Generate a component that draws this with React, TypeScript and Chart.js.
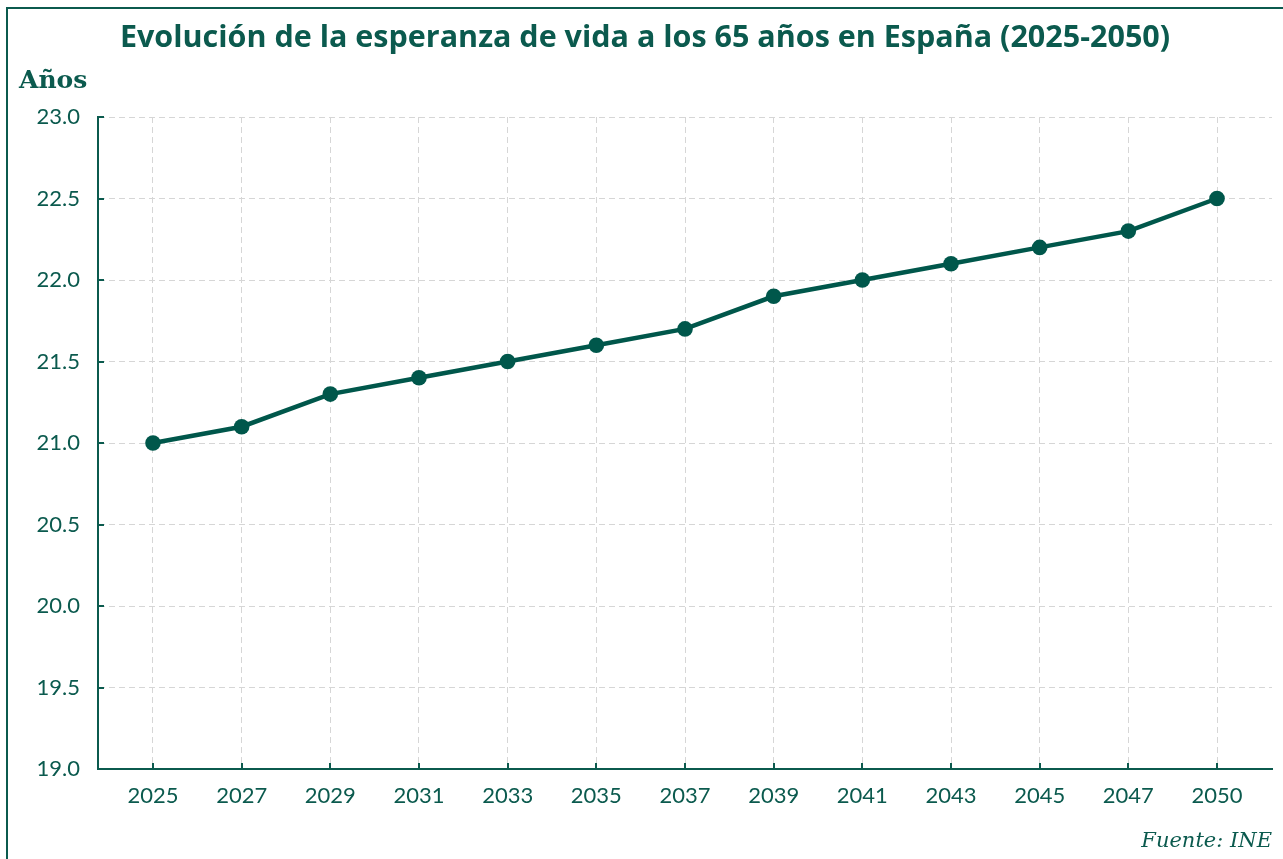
import React, { useEffect, useRef } from "react";
import { Chart, registerables } from "chart.js";

Chart.register(...registerables);

const years = ["2025", "2027", "2029", "2031", "2033", "2035", "2037", "2039", "2041", "2043", "2045", "2047", "2050"];
const lifeExpectancy = [21.0, 21.1, 21.3, 21.4, 21.5, 21.6, 21.7, 21.9, 22.0, 22.1, 22.2, 22.3, 22.5];
const yTicks = [19.0, 19.5, 20.0, 20.5, 21.0, 21.5, 22.0, 22.5, 23.0];

const TITLE = "Evolución de la esperanza de vida a los 65 años en España (2025-2050)";
const Y_LABEL = "Años";
const SOURCE = "Fuente: INE";

const TEXT = "#0b5a4e";
const LINE = "#00574b";
const GRID = "#d6d6d6";

const decorPlugin = {
  id: "decor",
  afterDraw(chart: any) {
    const { ctx, chartArea, scales } = chart;
    ctx.save();
    // inward tick marks
    ctx.strokeStyle = TEXT;
    ctx.lineWidth = 2;
    const y = scales.y;
    y.ticks.forEach((_t: any, i: number) => {
      const py = Math.round(y.getPixelForTick(i));
      ctx.beginPath();
      ctx.moveTo(chartArea.left, py);
      ctx.lineTo(chartArea.left + 6, py);
      ctx.stroke();
    });
    const x = scales.x;
    x.ticks.forEach((_t: any, i: number) => {
      const px = Math.round(x.getPixelForTick(i));
      ctx.beginPath();
      ctx.moveTo(px, chartArea.bottom);
      ctx.lineTo(px, chartArea.bottom - 6);
      ctx.stroke();
    });
    // title
    ctx.fillStyle = TEXT;
    ctx.font = "bold 30.5px 'Open Sans'";
    ctx.textAlign = "center";
    ctx.textBaseline = "alphabetic";
    ctx.fillText(TITLE, 645, 47);
    // y axis label
    ctx.font = "bold 25px 'DejaVu Serif'";
    ctx.textAlign = "left";
    ctx.fillText(Y_LABEL, 19, 88);
    // source
    ctx.font = "italic 21px 'DejaVu Serif'";
    ctx.textAlign = "right";
    ctx.fillText(SOURCE, chartArea.right, 847);
    ctx.restore();
  },
};

export default function App() {
  const ref = useRef<HTMLCanvasElement | null>(null);

  useEffect(() => {
    if (!ref.current) return;
    const chart = new Chart(ref.current, {
      type: "line",
      data: {
        datasets: [
          {
            label: "Esperanza de vida a los 65 años",
            data: lifeExpectancy.map((v, i) => ({ x: i, y: v })),
            borderColor: LINE,
            backgroundColor: LINE,
            borderWidth: 4.5,
            pointRadius: 7.8,
            pointBackgroundColor: LINE,
            pointBorderColor: LINE,
            pointBorderWidth: 0,
            tension: 0,
          },
        ],
      },
      options: {
        animation: false,
        responsive: false,
        maintainAspectRatio: false,
        layout: { padding: { left: 0, right: 11, top: 117, bottom: 40 } },
        plugins: {
          legend: { display: false },
          title: { display: false },
          tooltip: { enabled: false },
        },
        scales: {
          x: {
            type: "linear",
            min: -0.62,
            max: years.length - 1 + 0.62,
            afterBuildTicks: (scale: any) => {
              scale.ticks = years.map((_y, i) => ({ value: i }));
            },
            afterFit: (scale: any) => {
              scale.height = 50;
            },
            ticks: {
              autoSkip: false,
              maxRotation: 0,
              padding: 14,
              color: TEXT,
              font: { family: "Lato", size: 22 },
              callback: (v: any) => years[v as number] ?? "",
            },
            grid: {
              color: GRID,
              lineWidth: 1,
              drawTicks: false,
            },
            border: { display: true, color: TEXT, width: 2, dash: [6, 4] },
          },
          y: {
            type: "linear",
            min: 19,
            max: 23,
            afterBuildTicks: (scale: any) => {
              scale.ticks = yTicks.map((v) => ({ value: v }));
            },
            afterFit: (scale: any) => {
              scale.width = 98;
            },
            ticks: {
              padding: 18,
              color: TEXT,
              font: { family: "Lato", size: 22 },
              callback: (v: any) => Number(v).toFixed(1),
            },
            grid: {
              color: GRID,
              lineWidth: 1,
              drawTicks: false,
            },
            border: { display: true, color: TEXT, width: 2, dash: [6, 4] },
          },
        },
      },
      plugins: [decorPlugin],
    });
    return () => chart.destroy();
  }, []);

  return (
    <div style={{ position: "fixed", left: 0, top: 0, width: 1283, height: 859, background: "#fff", overflow: "hidden" }}>
      <div
        style={{
          position: "absolute",
          left: 6,
          top: 7,
          width: 1283,
          height: 859,
          borderLeft: `2px solid ${TEXT}`,
          borderTop: `2px solid ${TEXT}`,
        }}
      />
      <canvas ref={ref} width={1283} height={859} style={{ position: "absolute", left: 0, top: 0 }} />
    </div>
  );
}
